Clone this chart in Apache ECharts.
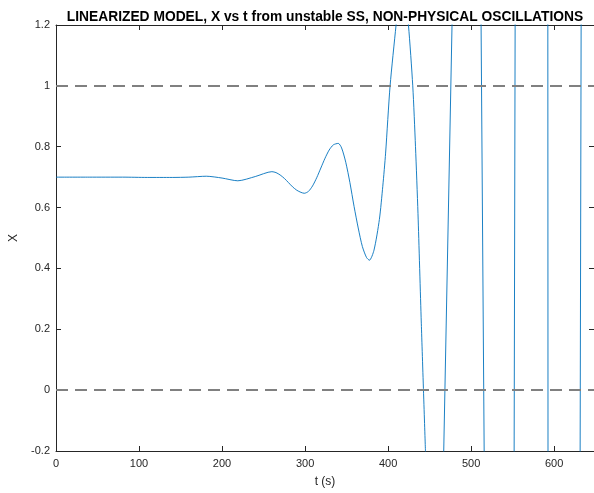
<!DOCTYPE html>
<html>
<head>
<meta charset="utf-8">
<script src="https://cdn.jsdelivr.net/npm/echarts@6/dist/echarts.min.js"></script>
<style>
html,body{margin:0;padding:0;background:#fff;}
#c{width:594px;height:493px;}
</style>
</head>
<body>
<div id="c"></div>
<script>
// Smooth early part of the response (t in s, X)
var tEarly = [0, 40, 80, 110, 140, 160, 181, 200, 219, 240, 260, 265, 270, 275, 280, 285, 290, 295, 299, 304, 309, 314, 319, 324, 329, 334, 340, 344, 349, 354, 359, 364, 369, 374, 377.5, 383, 389.5, 393.6, 397, 402.4, 409.6, 417, 424.5, 429.7, 433, 436, 440, 445];
var xEarly = [0.700, 0.700, 0.700, 0.699, 0.699, 0.700, 0.703, 0.697, 0.688, 0.702, 0.718, 0.715, 0.707, 0.696, 0.682, 0.668, 0.657, 0.650, 0.647, 0.653, 0.671, 0.698, 0.730, 0.762, 0.789, 0.806, 0.811, 0.796, 0.749, 0.682, 0.604, 0.533, 0.472, 0.436, 0.427, 0.460, 0.561, 0.670, 0.779, 1.00, 1.20, 1.40, 1.20, 1.00, 0.80, 0.58, 0.22, -0.20];
// Large non-physical oscillations (mostly off-scale)
var tLate = [445, 456, 467, 477, 495, 512, 515.7, 533, 551.8, 553, 572, 592.4, 592.6, 612, 631.3, 632.5, 648];
var xLate = [-0.20, -0.95, -0.20, 1.20, 4.5, 1.20, -0.20, -8.3, -0.20, 1.20, 21, 1.20, -0.20, -50, -0.20, 1.20, 60];
// Reference (dashed) levels
var refLevels = [1, 0];
// Axis ranges / ticks
var xTicks = [0, 100, 200, 300, 400, 500, 600];
var yTicks = [-0.2, 0, 0.2, 0.4, 0.6, 0.8, 1, 1.2];

function pairs(t, x) { return t.map(function (v, i) { return [v, x[i]]; }); }

var axisColor = '#262626';
var font = 'Liberation Sans, Arial, Helvetica, sans-serif';

var chart = echarts.init(document.getElementById('c'), null, {renderer: 'canvas'});
chart.setOption({
  animation: false,
  backgroundColor: '#ffffff',
  title: {
    text: 'LINEARIZED MODEL, X vs t from unstable SS, NON-PHYSICAL OSCILLATIONS',
    left: 320, top: 5, textAlign: 'center',
    textStyle: {fontFamily: font, fontSize: 13.8, fontWeight: 'bold', color: '#000'}
  },
  grid: {left: 56, right: 0, top: 25, bottom: 40, containLabel: false},
  xAxis: [{
    type: 'value', min: 0, max: 648, interval: 100, position: 'bottom',
    name: 't (s)', nameLocation: 'middle', nameGap: 25,
    nameTextStyle: {fontFamily: font, fontSize: 12, color: axisColor},
    axisLine: {show: true, onZero: false, lineStyle: {color: axisColor, width: 1}},
    axisTick: {show: true, inside: true, length: 5, lineStyle: {color: axisColor}},
    axisLabel: {fontFamily: font, fontSize: 11, color: axisColor, margin: 7, showMaxLabel: false},
    splitLine: {show: false}
  }, {
    type: 'value', min: 0, max: 648, interval: 100, position: 'top',
    axisLine: {show: true, onZero: false, lineStyle: {color: axisColor, width: 1}},
    axisTick: {show: true, inside: true, length: 5, lineStyle: {color: axisColor}},
    axisLabel: {show: false},
    splitLine: {show: false}
  }],
  yAxis: [{
    type: 'value', min: -0.2, max: 1.2, interval: 0.2, position: 'left',
    name: 'X', nameLocation: 'middle', nameGap: 35, nameRotate: 90,
    nameTextStyle: {fontFamily: font, fontSize: 12, color: axisColor},
    axisLine: {show: true, onZero: false, lineStyle: {color: axisColor, width: 1}},
    axisTick: {show: true, inside: true, length: 5, lineStyle: {color: axisColor}},
    axisLabel: {fontFamily: font, fontSize: 11, color: axisColor, margin: 6},
    splitLine: {show: false}
  }, {
    type: 'value', min: -0.2, max: 1.2, interval: 0.2, position: 'right',
    axisLine: {show: true, onZero: false, lineStyle: {color: axisColor, width: 1}},
    axisTick: {show: true, inside: true, length: 5, lineStyle: {color: axisColor}},
    axisLabel: {show: false},
    splitLine: {show: false}
  }],
  series: [{
    type: 'line', data: pairs(tEarly, xEarly), smooth: 0.25, showSymbol: false,
    clip: true, lineStyle: {color: '#0072BD', width: 0.9}, z: 3,
    markLine: {
      silent: true, symbol: 'none', label: {show: false},
      lineStyle: {color: '#808080', width: 2, type: [12, 7]},
      data: refLevels.map(function (v) { return {yAxis: v}; })
    }
  }, {
    type: 'line', data: pairs(tLate, xLate), smooth: false, showSymbol: false,
    clip: true, lineStyle: {color: '#0072BD', width: 0.9}, z: 3
  }]
});
</script>
</body>
</html>
